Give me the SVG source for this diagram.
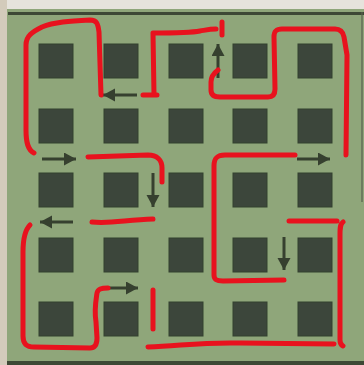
<svg xmlns="http://www.w3.org/2000/svg" width="364" height="365" viewBox="0 0 364 365">
  <defs>
    <marker id="ah" markerUnits="userSpaceOnUse" markerWidth="13" markerHeight="14" refX="12" refY="6.5" orient="auto">
      <path d="M0,0 L12,6.5 L0,13 Z" fill="#36402f"/>
    </marker>
  </defs>
  <style>
    .sq { fill: #3c463b; stroke: #33402f; stroke-width: 1; }
    .arrow { stroke: #36402f; stroke-width: 3; fill: none; marker-end: url(#ah); }
    .red { stroke: #e8121e; stroke-width: 5; fill: none; stroke-linecap: round; stroke-linejoin: round; }
  </style>
  <rect x="0" y="0" width="364" height="365" fill="#e6e3dc"/>
  <rect x="0" y="0" width="7" height="365" fill="#d3cbbb"/>
  <rect x="7" y="9" width="357" height="356" fill="#8fa67a"/>
  <rect x="8" y="12" width="356" height="3" fill="#3d4835"/>
  <rect x="7" y="361" width="357" height="4" fill="#3d4835"/>
  <rect x="361" y="12" width="2" height="190" fill="#56604c" opacity="0.6"/>

  <g id="squares">
    <g id="r1">
      <rect class="sq" x="39" y="44" width="34" height="34"/>
      <rect class="sq" x="104" y="44" width="34" height="34"/>
      <rect class="sq" x="169" y="44" width="34" height="34"/>
      <rect class="sq" x="233" y="44" width="34" height="34"/>
      <rect class="sq" x="298" y="44" width="34" height="34"/>
    </g>
    <g id="r2">
      <rect class="sq" x="39" y="109" width="34" height="34"/>
      <rect class="sq" x="104" y="109" width="34" height="34"/>
      <rect class="sq" x="169" y="109" width="34" height="34"/>
      <rect class="sq" x="233" y="109" width="34" height="34"/>
      <rect class="sq" x="298" y="109" width="34" height="34"/>
    </g>
    <g id="r3">
      <rect class="sq" x="39" y="173" width="34" height="34"/>
      <rect class="sq" x="104" y="173" width="34" height="34"/>
      <rect class="sq" x="169" y="173" width="34" height="34"/>
      <rect class="sq" x="233" y="173" width="34" height="34"/>
      <rect class="sq" x="298" y="173" width="34" height="34"/>
    </g>
    <g id="r4">
      <rect class="sq" x="39" y="238" width="34" height="34"/>
      <rect class="sq" x="104" y="238" width="34" height="34"/>
      <rect class="sq" x="169" y="238" width="34" height="34"/>
      <rect class="sq" x="233" y="238" width="34" height="34"/>
      <rect class="sq" x="298" y="238" width="34" height="34"/>
    </g>
    <g id="r5">
      <rect class="sq" x="39" y="302" width="34" height="34"/>
      <rect class="sq" x="104" y="302" width="34" height="34"/>
      <rect class="sq" x="169" y="302" width="34" height="34"/>
      <rect class="sq" x="233" y="302" width="34" height="34"/>
      <rect class="sq" x="298" y="302" width="34" height="34"/>
    </g>
  </g>

  <g id="arrows">
    <line class="arrow" x1="137" y1="95" x2="103" y2="95"/>
    <line class="arrow" x1="218" y1="78" x2="218" y2="44"/>
    <line class="arrow" x1="42" y1="159" x2="76" y2="159"/>
    <line class="arrow" x1="153" y1="173" x2="153" y2="207"/>
    <line class="arrow" x1="297" y1="159" x2="330" y2="159"/>
    <line class="arrow" x1="73" y1="222" x2="40" y2="222"/>
    <line class="arrow" x1="284" y1="237" x2="284" y2="270"/>
    <line class="arrow" x1="108" y1="288" x2="138" y2="288"/>
  </g>

  <g id="red-lines">
    <path class="red" d="M34,153 C28,150 26,143 26,130 L26,45 C26,36 32,32 42,27 C54,22 70,21 90,20 C97,20 98,24 99,32 L101,95"/>
    <path class="red" d="M143,95 L157,95 M154,95 L153,33 C170,33 190,33 200,31 C206,30 210,29 216,29"/>
    <path class="red" d="M222,22 L222,35"/>
    <path class="red" d="M218,70 C214,73 211,76 211,82 L211,90 C211,95 214,97 220,97 L268,97 C273,97 275,94 275,89 L274,37 C274,31 276,29 282,29 L335,29 C340,29 343,32 344,37 L347,55 L346,155"/>
    <path class="red" d="M295,155 L225,155 C217,155 214,158 214,166 L214,275 C214,280 217,281 223,281 L284,280"/>
    <path class="red" d="M289,221 L337,221"/>
    <path class="red" d="M343,222 C340,224 340,228 340,235 L340,340 C340,344 341,345 343,346"/>
    <path class="red" d="M148,347 C180,346 200,342 240,343 L334,344"/>
    <path class="red" d="M88,157 L148,155 C157,155 162,160 162,168 L162,182"/>
    <path class="red" d="M92,222 C110,224 125,220 153,219"/>
    <path class="red" d="M30,225 C25,230 23,238 23,252 L23,336 C23,343 26,347 34,347 L90,348 C95,348 97,344 97,338 L96,322 C94,310 96,300 97,293 C98,289 101,288 108,288"/>
    <path class="red" d="M153,290 L153,329"/>
  </g>
</svg>
